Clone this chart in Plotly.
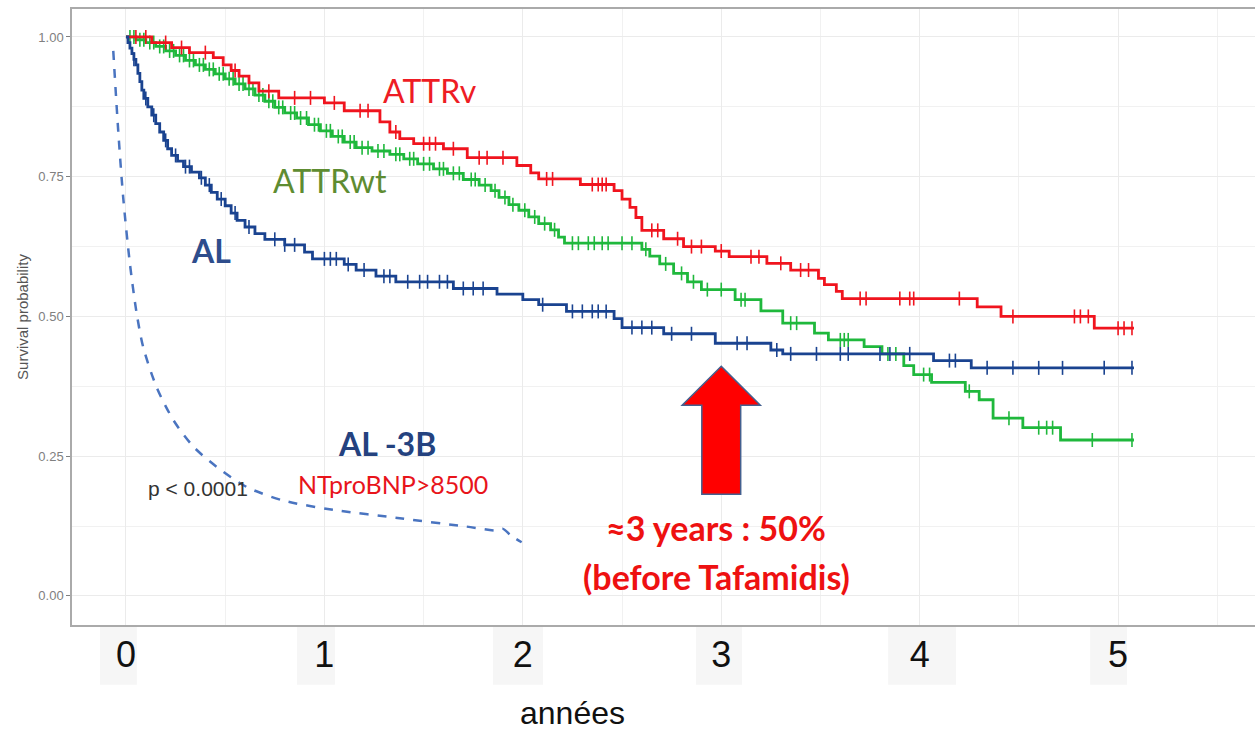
import numpy as np
import plotly.graph_objects as go

# ---------------- data ----------------
attrv_t = [0, 0.13, 0.23, 0.32, 0.44, 0.49, 0.53, 0.57, 0.62, 0.67, 0.77, 1.00, 1.10, 1.28, 1.33,
           1.38, 1.45, 1.60, 1.72, 1.97, 2.04, 2.08, 2.29, 2.46, 2.50, 2.54, 2.57, 2.60, 2.71, 2.81,
           2.97, 3.04, 3.23, 3.35, 3.49, 3.52, 3.58, 3.61, 4.29, 4.41, 4.88]
attrv_s = [1.000, 0.990, 0.981, 0.972, 0.963, 0.950, 0.940, 0.930, 0.918, 0.903, 0.891, 0.882, 0.868,
           0.848, 0.830, 0.818, 0.809, 0.800, 0.784, 0.770, 0.757, 0.746, 0.736, 0.725, 0.710, 0.695,
           0.677, 0.654, 0.639, 0.625, 0.617, 0.607, 0.595, 0.583, 0.568, 0.557, 0.545, 0.532, 0.517,
           0.500, 0.479]
attrv_end = 5.08
attrv_cens = [0.05, 0.10, 0.20, 0.28, 0.40, 0.55, 0.72, 0.85, 0.93, 1.05, 1.18, 1.22, 1.36, 1.50,
              1.53, 1.56, 1.65, 1.78, 1.82, 1.90, 2.12, 2.15, 2.35, 2.38, 2.40, 2.42, 2.65, 2.68,
              2.78, 2.85, 2.90, 3.00, 3.15, 3.19, 3.30, 3.40, 3.44, 3.70, 3.73, 3.90, 3.95, 3.97,
              4.20, 4.47, 4.78, 4.81, 4.85, 5.00, 5.03, 5.07]

attrwt_t = [0, 0.05, 0.10, 0.15, 0.20, 0.25, 0.30, 0.35, 0.40, 0.45, 0.50, 0.55, 0.60, 0.65, 0.70,
            0.75, 0.80, 0.86, 0.92, 0.98, 1.04, 1.10, 1.16, 1.24, 1.33, 1.40, 1.47, 1.55, 1.62, 1.70,
            1.78, 1.84, 1.88, 1.93, 1.98, 2.03, 2.08, 2.14, 2.18, 2.21, 2.60, 2.64, 2.69, 2.76, 2.83,
            2.90, 3.07, 3.20, 3.31, 3.47, 3.54, 3.72, 3.81, 3.92, 3.97, 4.06, 4.23, 4.30, 4.37, 4.52,
            4.71]
attrwt_s = [1.000, 0.995, 0.990, 0.983, 0.975, 0.967, 0.958, 0.950, 0.942, 0.934, 0.925, 0.916, 0.907,
            0.896, 0.885, 0.874, 0.864, 0.855, 0.843, 0.832, 0.822, 0.812, 0.802, 0.796, 0.790, 0.782,
            0.773, 0.764, 0.756, 0.745, 0.735, 0.725, 0.713, 0.700, 0.690, 0.678, 0.666, 0.655, 0.642,
            0.631, 0.620, 0.608, 0.594, 0.577, 0.562, 0.548, 0.530, 0.510, 0.488, 0.470, 0.458, 0.446,
            0.433, 0.412, 0.396, 0.382, 0.366, 0.351, 0.318, 0.301, 0.279]
attrwt_end = 5.08
attrwt_cens = [0.02, 0.04, 0.07, 0.09, 0.12, 0.14, 0.17, 0.19, 0.22, 0.24, 0.27, 0.29, 0.32, 0.34,
               0.37, 0.39, 0.42, 0.44, 0.47, 0.49, 0.52, 0.54, 0.57, 0.59, 0.62, 0.64, 0.67, 0.69,
               0.72, 0.74, 0.77, 0.79, 0.83, 0.85, 0.88, 0.91, 0.95, 0.97, 1.01, 1.03, 1.07, 1.09,
               1.13, 1.15, 1.19, 1.22, 1.27, 1.30, 1.36, 1.38, 1.43, 1.45, 1.50, 1.53, 1.58, 1.60,
               1.65, 1.68, 1.74, 1.76, 1.81, 1.86, 1.91, 1.95, 2.01, 2.06, 2.11, 2.16, 2.25, 2.28,
               2.33, 2.36, 2.40, 2.43, 2.50, 2.55, 2.62, 2.72, 2.80, 2.86, 2.93, 3.00, 3.10, 3.12,
               3.35, 3.38, 3.60, 3.62, 3.64, 3.84, 3.88, 4.02, 4.05, 4.25, 4.45, 4.60, 4.64, 4.67,
               4.87, 5.07]

al_t = [0, 0.01, 0.02, 0.03, 0.04, 0.05, 0.06, 0.07, 0.08, 0.09, 0.11, 0.13, 0.15, 0.17, 0.19, 0.21,
        0.23, 0.26, 0.29, 0.33, 0.37, 0.40, 0.43, 0.46, 0.50, 0.53, 0.56, 0.60, 0.65, 0.70, 0.80, 0.90,
        0.94, 1.10, 1.16, 1.26, 1.36, 1.65, 1.87, 2.00, 2.08, 2.22, 2.46, 2.50, 2.71, 2.97, 3.25, 3.31,
        4.07, 4.26]
al_s = [1.000, 0.990, 0.980, 0.970, 0.960, 0.950, 0.935, 0.920, 0.905, 0.890, 0.875, 0.860, 0.845,
        0.830, 0.815, 0.800, 0.788, 0.778, 0.768, 0.758, 0.748, 0.735, 0.722, 0.710, 0.698, 0.685,
        0.672, 0.660, 0.648, 0.638, 0.628, 0.615, 0.603, 0.593, 0.583, 0.572, 0.562, 0.550, 0.540,
        0.530, 0.521, 0.509, 0.496, 0.480, 0.469, 0.452, 0.440, 0.433, 0.421, 0.408]
al_end = 5.08
al_cens = [0.04, 0.10, 0.14, 0.20, 0.25, 0.30, 0.32, 0.38, 0.42, 0.48, 0.55, 0.62, 0.75, 0.80, 0.85,
           1.00, 1.03, 1.06, 1.12, 1.20, 1.30, 1.33, 1.42, 1.48, 1.52, 1.58, 1.62, 1.70, 1.75, 1.80,
           2.10, 2.25, 2.30, 2.35, 2.38, 2.42, 2.55, 2.60, 2.65, 2.75, 2.85, 3.08, 3.13, 3.28, 3.35,
           3.48, 3.60, 3.64, 3.80, 3.85, 3.95, 4.15, 4.18, 4.34, 4.47, 4.60, 4.72, 4.93, 5.07]

al3b_t = [-0.064, -0.039, -0.014, 0.020, 0.054, 0.087, 0.155, 0.240, 0.340, 0.457, 0.608, 0.790,
          1.045, 1.380, 1.717, 1.870, 1.900, 1.940, 1.994]
al3b_s = [0.975, 0.832, 0.713, 0.594, 0.505, 0.445, 0.373, 0.314, 0.267, 0.231, 0.195, 0.171,
          0.154, 0.139, 0.124, 0.117, 0.120, 0.108, 0.096]

x_ticks = [0, 1, 2, 3, 4, 5]
x_ticktext = ["0", "1", "2", "3", "4", "5"]
y_ticks = [0, 0.25, 0.5, 0.75, 1.0]
y_ticktext = ["0.00", "0.25", "0.50", "0.75", "1.00"]

# ---------------- styles ----------------
RED = "#f0141e"
GREEN = "#1fb83c"
BLUE = "#1a4390"
DASH = "#4a74c0"

fig = go.Figure()


def add_km(times, surv, end, cens, color):
    xs = list(times) + [end]
    ys = list(surv) + [surv[-1]]
    fig.add_trace(go.Scatter(x=xs, y=ys, mode="lines", line=dict(color=color, width=2.8, shape="hv"),
                             showlegend=False, hoverinfo="skip"))
    t = np.array(times)
    s = np.array(surv)
    c = np.array(cens)
    idx = np.searchsorted(t, c, side="right") - 1
    fig.add_trace(go.Scatter(x=c, y=s[idx], mode="markers",
                             marker=dict(symbol="line-ns", size=10, line=dict(color=color, width=1.6)),
                             showlegend=False, hoverinfo="skip"))


add_km(attrwt_t, attrwt_s, attrwt_end, attrwt_cens, GREEN)
add_km(attrv_t, attrv_s, attrv_end, attrv_cens, RED)
add_km(al_t, al_s, al_end, al_cens, BLUE)

fig.add_trace(go.Scatter(x=al3b_t, y=al3b_s, mode="lines",
                         line=dict(color=DASH, width=2.5, dash="dash", shape="spline", smoothing=0.8),
                         showlegend=False, hoverinfo="skip"))

# ---------------- tick-label boxes (slide overlay) ----------------
box_spans = [(-0.131, 0.055), (0.862, 1.053), (1.850, 2.102), (2.873, 3.105), (3.841, 4.183), (4.859, 5.045)]
for x0, x1 in box_spans:
    fig.add_shape(type="rect", xref="x", yref="paper", x0=x0, x1=x1, y0=-0.097, y1=-0.001,
                  fillcolor="#f6f6f6", line=dict(width=0), layer="below")

# ---------------- arrow ----------------
ax_c, tip_y, head_y, head_hw, shaft_hw, base_y = 3.0, 0.411, 0.341, 0.197, 0.098, 0.182
path = (f"M {ax_c},{tip_y} L {ax_c + head_hw},{head_y} L {ax_c + shaft_hw},{head_y} "
        f"L {ax_c + shaft_hw},{base_y} L {ax_c - shaft_hw},{base_y} L {ax_c - shaft_hw},{head_y} "
        f"L {ax_c - head_hw},{head_y} Z")
fig.add_shape(type="path", path=path, xref="x", yref="y", fillcolor="#ff0000",
              line=dict(color="#44608f", width=1.5))

# ---------------- annotations ----------------
SLIDE = "Lato, 'Open Sans', sans-serif"
ann = [
    dict(x=1.532, y=0.904, text="ATTRv", font=dict(family=SLIDE, size=32, color="#ee1c24")),
    dict(x=1.028, y=0.743, text="ATTRwt", font=dict(family=SLIDE, size=32, color="#5e8c31")),
    dict(x=0.428, y=0.618, text="<b>AL</b>", font=dict(family=SLIDE, size=32, color="#2e4d8c")),
    dict(x=1.316, y=0.273, text="<b>AL -3B</b>", font=dict(family=SLIDE, size=32, color="#24427f")),
    dict(x=1.346, y=0.200, text="NTproBNP&gt;8500", font=dict(family=SLIDE, size=25, color="#e8141b")),
    dict(x=0.10, y=0.193, text="p &lt; 0.0001", xanchor="left",
         font=dict(family="Liberation Sans, Arial", size=21, color="#333333")),
    dict(x=2.974, y=0.123, text="<b>≈3 years : 50%</b>", font=dict(family=SLIDE, size=34, color="#ee1111")),
    dict(x=2.974, y=0.034, text="<b>(before Tafamidis)</b>", font=dict(family=SLIDE, size=34, color="#ee1111")),
]
for a in ann:
    a.setdefault("xanchor", "center")
    fig.add_annotation(xref="x", yref="y", showarrow=False, yanchor="middle", **a)

fig.add_annotation(xref="paper", yref="paper", x=0.4227, y=-0.143, text="années", showarrow=False,
                   xanchor="center", yanchor="middle",
                   font=dict(family="Liberation Sans, Arial", size=32, color="#111111"))

# ---------------- layout ----------------
fig.update_layout(
    width=1255, height=731,
    margin=dict(l=72, r=0, t=9, b=106),
    paper_bgcolor="white", plot_bgcolor="white",
    xaxis=dict(range=[-0.272, 5.69], tickvals=x_ticks, ticktext=x_ticktext,
               tickfont=dict(family="Liberation Sans, Arial", size=36, color="#111111"),
               showgrid=True, gridcolor="#ebebeb", gridwidth=1,
               minor=dict(dtick=0.5, tick0=0, showgrid=True, gridcolor="#f1f1f1", gridwidth=1),
               showline=True, linecolor="#aaaaaa", linewidth=1.5, mirror=True,
               zeroline=False, ticks="", ticklabelstandoff=-3),
    yaxis=dict(range=[-0.052, 1.05], tickvals=y_ticks, ticktext=y_ticktext,
               tickfont=dict(family="Liberation Sans, Arial", size=13, color="#808080"),
               ticks="outside", ticklen=4, tickcolor="#808080",
               showgrid=True, gridcolor="#ebebeb", gridwidth=1,
               minor=dict(dtick=0.125, tick0=0, showgrid=True, gridcolor="#f1f1f1", gridwidth=1),
               showline=True, linecolor="#aaaaaa", linewidth=1.5,
               zeroline=False,
               title=dict(text="Survival probability", standoff=6,
                          font=dict(family="Liberation Sans, Arial", size=15, color="#555555"))),
)

fig.write_html("out.html")
